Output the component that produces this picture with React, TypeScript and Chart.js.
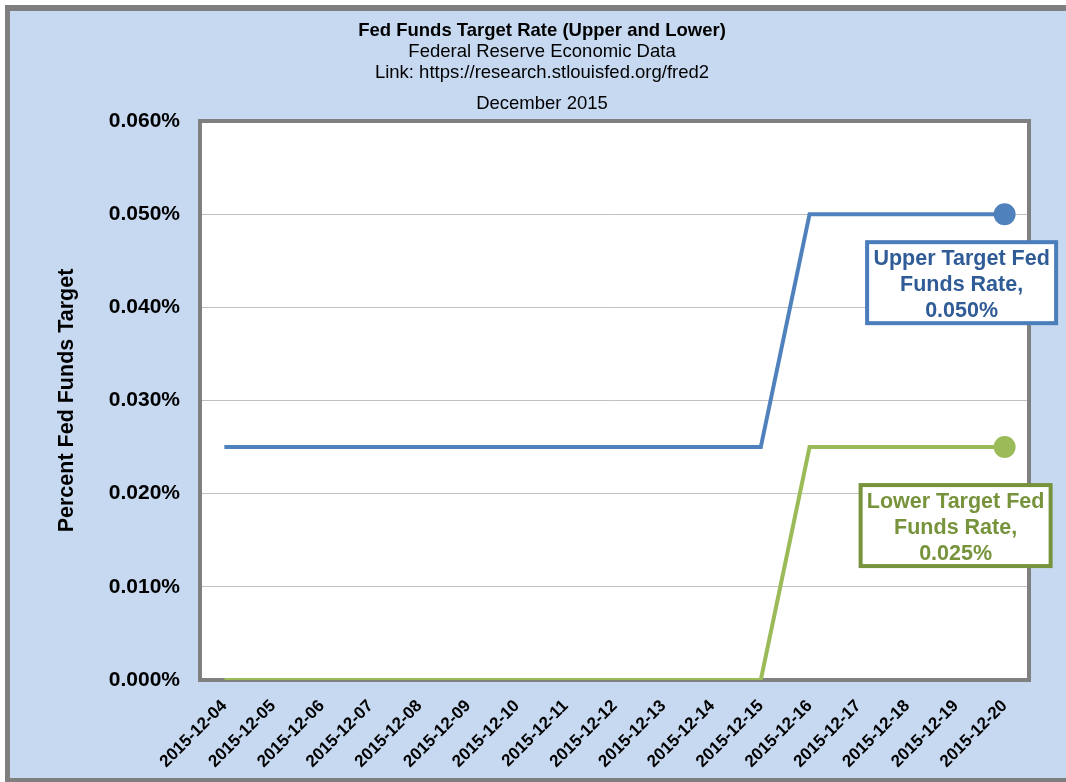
import React, { useEffect, useRef } from 'react';
import { Chart, registerables } from 'chart.js';

Chart.register(...registerables);

const dates = [
  '2015-12-04', '2015-12-05', '2015-12-06', '2015-12-07', '2015-12-08', '2015-12-09',
  '2015-12-10', '2015-12-11', '2015-12-12', '2015-12-13', '2015-12-14', '2015-12-15',
  '2015-12-16', '2015-12-17', '2015-12-18', '2015-12-19', '2015-12-20',
];
const upperRate = [
  0.025, 0.025, 0.025, 0.025, 0.025, 0.025, 0.025, 0.025, 0.025, 0.025, 0.025, 0.025,
  0.05, 0.05, 0.05, 0.05, 0.05,
];
const lowerRate = [
  0, 0, 0, 0, 0, 0, 0, 0, 0, 0, 0, 0,
  0.025, 0.025, 0.025, 0.025, 0.025,
];
const yMin = 0;
const yMax = 0.06;
const yStep = 0.01;

const titleMain = 'Fed Funds Target Rate (Upper and Lower)';
const titleSub = ['Federal Reserve Economic Data', 'Link: https://research.stlouisfed.org/fred2'];
const periodLabel = 'December 2015';
const yAxisTitle = 'Percent Fed Funds Target';
const upperLabel = ['Upper Target Fed', 'Funds Rate,', '0.050%'];
const lowerLabel = ['Lower Target Fed', 'Funds Rate,', '0.025%'];

const FONT = '"Liberation Sans", Arial, sans-serif';
const BLUE = '#4f81bd';
const GREEN = '#9bbb59';

const decorPlugin = {
  id: 'decor',
  beforeDraw(chart: any) {
    const { ctx, width, height, chartArea } = chart;
    ctx.save();
    ctx.fillStyle = '#ffffff';
    ctx.fillRect(0, 0, width, height);
    ctx.fillStyle = '#7f7f7f';
    ctx.fillRect(5, 5, width - 5, height - 5);
    ctx.fillStyle = '#c6d9f1';
    ctx.fillRect(10, 11, width - 10, height - 15);
    ctx.fillStyle = '#ffffff';
    ctx.fillRect(chartArea.left, chartArea.top, chartArea.right - chartArea.left, chartArea.bottom - chartArea.top);

    ctx.fillStyle = '#000000';
    ctx.textAlign = 'center';
    ctx.textBaseline = 'middle';
    const cx = 542;
    ctx.font = `bold 18.5px ${FONT}`;
    ctx.fillText(titleMain, cx, 31);
    ctx.font = `18.5px ${FONT}`;
    ctx.fillText(titleSub[0], cx, 52);
    ctx.fillText(titleSub[1], cx, 73);
    ctx.fillText(periodLabel, cx, 104);
    ctx.restore();
  },
  beforeDatasetsDraw(chart: any) {
    const { ctx, chartArea } = chart;
    ctx.save();
    ctx.strokeStyle = '#808080';
    ctx.lineWidth = 4;
    ctx.strokeRect(chartArea.left, chartArea.top, chartArea.right - chartArea.left, chartArea.bottom - chartArea.top);
    ctx.restore();
  },
  afterDatasetsDraw(chart: any) {
    const { ctx } = chart;
    const drawBox = (dsIndex: number, lines: string[], dx: number, dy: number, w: number, h: number, border: string, text: string) => {
      const meta = chart.getDatasetMeta(dsIndex);
      const pt = meta.data[meta.data.length - 1];
      const cx = pt.x + dx;
      const top = pt.y + dy;
      ctx.save();
      ctx.fillStyle = '#ffffff';
      ctx.fillRect(cx - w / 2, top, w, h);
      ctx.strokeStyle = border;
      ctx.lineWidth = 4;
      ctx.strokeRect(cx - w / 2, top, w, h);
      ctx.fillStyle = text;
      ctx.font = `bold 21.5px ${FONT}`;
      ctx.textAlign = 'center';
      ctx.textBaseline = 'middle';
      lines.forEach((l, i) => ctx.fillText(l, cx, top + 17 + i * 26));
      ctx.restore();
    };
    drawBox(0, upperLabel, -43, 28, 189, 81, '#4a7ebb', '#2f5b96');
    drawBox(1, lowerLabel, -49, 38, 190, 81, '#77933c', '#77933c');
  },
};

export default function App() {
  const ref = useRef<HTMLCanvasElement>(null);
  useEffect(() => {
    if (!ref.current) return;
    const lastRadius = (n: number) => (c: any) => (c.dataIndex === n - 1 ? 11 : 0);
    const chart = new Chart(ref.current, {
      type: 'line',
      data: {
        labels: dates,
        datasets: [
          {
            label: 'Upper Target Fed Funds Rate',
            data: upperRate,
            borderColor: BLUE,
            backgroundColor: BLUE,
            borderWidth: 4,
            pointRadius: lastRadius(upperRate.length),
            pointBorderWidth: 0,
            tension: 0,
          },
          {
            label: 'Lower Target Fed Funds Rate',
            data: lowerRate,
            borderColor: GREEN,
            backgroundColor: GREEN,
            borderWidth: 4,
            pointRadius: lastRadius(lowerRate.length),
            pointBorderWidth: 0,
            tension: 0,
          },
        ],
      },
      options: {
        responsive: false,
        animation: false,
        devicePixelRatio: 1,
        layout: { padding: { top: 121, right: 37, bottom: 0, left: 0 } },
        plugins: {
          legend: { display: false },
          title: { display: false },
          tooltip: { enabled: false },
        },
        scales: {
          x: {
            offset: true,
            grid: { display: false },
            border: { display: false },
            ticks: {
              autoSkip: false,
              maxRotation: 45,
              minRotation: 45,
              padding: 8,
              color: '#000',
              font: { family: FONT, size: 17, weight: 'bold' },
            },
            afterFit: (s: any) => { s.height = 102; },
          },
          y: {
            min: yMin,
            max: yMax,
            grid: { color: '#bfbfbf', lineWidth: 1, drawTicks: false },
            border: { display: false },
            ticks: {
              stepSize: yStep,
              padding: 20,
              color: '#000',
              font: { family: FONT, size: 21, weight: 'bold' },
              callback: (v: any) => `${(+v).toFixed(3)}%`,
            },
            title: {
              display: true,
              text: yAxisTitle,
              color: '#000',
              padding: { top: 54, bottom: 0 },
              font: { family: FONT, size: 21.5, weight: 'bold' },
            },
            afterFit: (s: any) => { s.width = 200; },
          },
        },
      },
      plugins: [decorPlugin],
    } as any);
    return () => chart.destroy();
  }, []);
  return (
    <div style={{ position: 'absolute', left: 0, top: 0, width: 1066, height: 782 }}>
      <canvas ref={ref} width={1066} height={782} style={{ display: 'block', width: 1066, height: 782 }} />
    </div>
  );
}
